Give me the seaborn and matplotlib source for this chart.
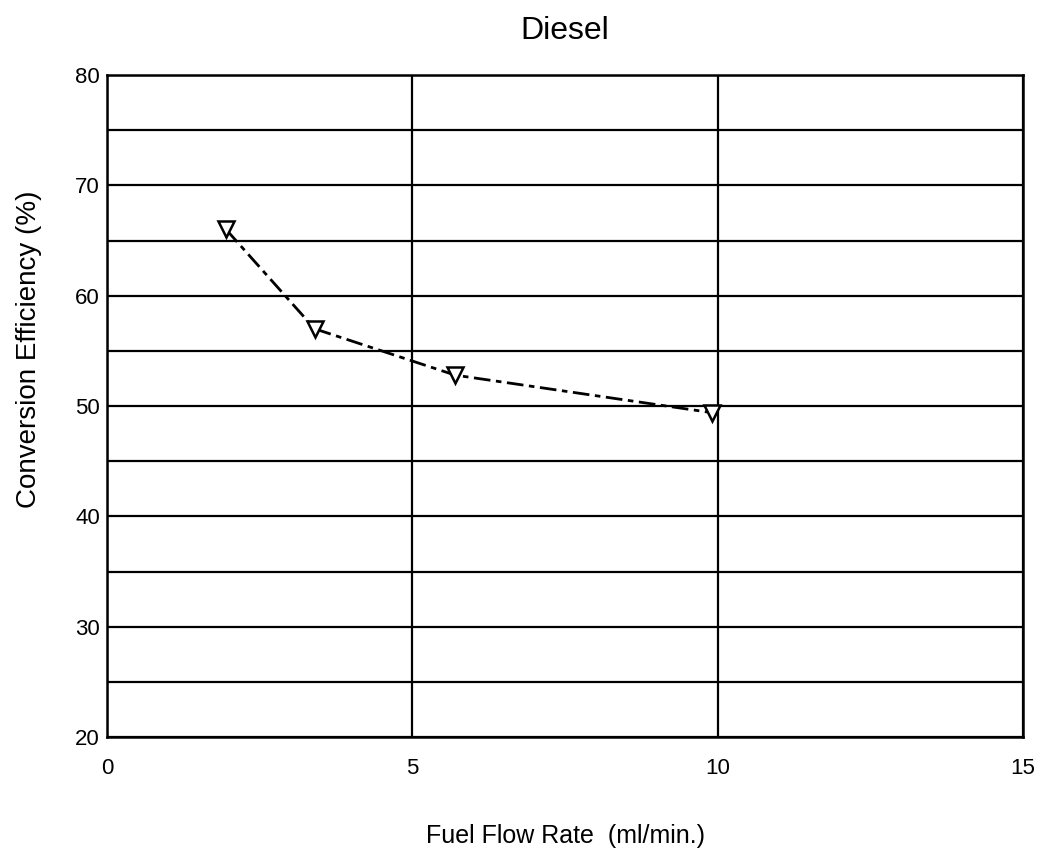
import matplotlib
matplotlib.use("Agg")
import matplotlib.pyplot as plt
import seaborn as sns
import pandas as pd

# values
flow_rate = [1.95, 3.4, 5.7, 9.9]
efficiency = [66.0, 57.0, 52.8, 49.4]
x_ticks = [0, 5, 10, 15]
y_ticks = [20, 30, 40, 50, 60, 70, 80]
y_grid = [25, 35, 45, 55, 65, 75]

sns.set_theme(style="white")
plt.rcParams['font.family'] = ['Liberation Sans', 'DejaVu Sans']

df = pd.DataFrame({"flow": flow_rate, "eff": efficiency})

fig = plt.figure(figsize=(10.39, 8.5), dpi=100)
ax = fig.add_axes([107 / 1039, 1 - 737 / 850, (1023 - 107) / 1039, (737 - 75) / 850])

sns.lineplot(data=df, x="flow", y="eff", ax=ax, color="black", linewidth=2,
             marker="v", markersize=11, markerfacecolor="white",
             markeredgecolor="black", markeredgewidth=1.8,
             dashes=False, linestyle=(0, (6, 2, 2, 2)))

ax.set_xlim(0, 15)
ax.set_ylim(20, 80)
ax.set_xticks(x_ticks)
ax.set_yticks(y_ticks)
ax.tick_params(axis="both", length=0, labelsize=16, colors="black")
ax.tick_params(axis="x", pad=15)
ax.tick_params(axis="y", pad=5)

ax.grid(True, color="black", linewidth=1.6)
for y in y_grid:
    ax.axhline(y, color="black", linewidth=1.6, zorder=0)
ax.set_axisbelow(True)

for s in ax.spines.values():
    s.set_color("black")
    s.set_linewidth(1.8)

ax.set_xlabel("Fuel Flow Rate  (ml/min.)", fontsize=18, color="black")
ax.xaxis.set_label_coords(0.501, -0.131)
ax.set_ylabel("Conversion Efficiency (%)", fontsize=20, color="black")
ax.yaxis.set_label_coords(-0.071, 0.585)
ax.set_title("Diesel", fontsize=23, color="black", pad=26)

fig.savefig("out.png", dpi=100)
